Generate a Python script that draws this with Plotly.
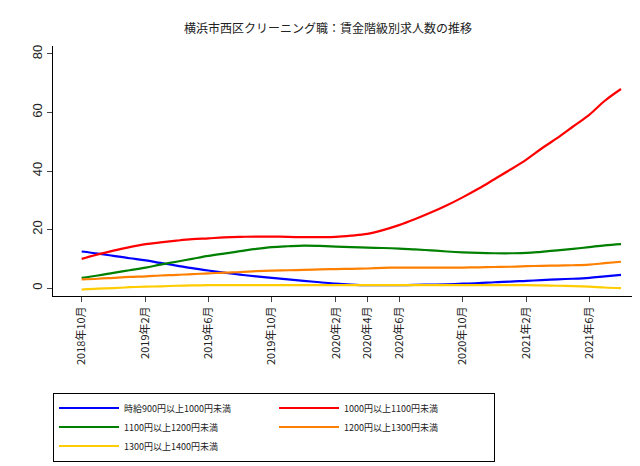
import plotly.graph_objects as go
import pandas as pd

months = pd.date_range("2018-10-01", "2021-08-01", freq="MS")
names = ["時給900円以上1000円未満", "1000円以上1100円未満", "1100円以上1200円未満",
         "1200円以上1300円未満", "1300円以上1400円未満"]
colors = ["#0000ff", "#ff0000", "#008000", "#ff8000", "#ffcc00"]
blue = [12.5,11.8,11,10.2,9.5,8.6,7.7,6.8,6,5.3,4.6,4,3.5,3,2.5,2,1.5,1.2,1,1,1,1.1,1.2,1.3,1.5,1.7,2,2.2,2.5,2.7,3,3.2,3.5,4,4.5]
red = [10,11.5,12.8,14,15,15.6,16.2,16.7,17,17.3,17.5,17.6,17.6,17.5,17.4,17.4,17.5,17.9,18.5,19.8,21.5,23.5,25.8,28.3,31,34,37.2,40.5,44,47.6,51.3,55.2,59.2,64,68]
green = [3.5,4.3,5.2,6.1,7,8,9,10,11,11.8,12.6,13.4,14,14.3,14.5,14.4,14.2,14,13.8,13.7,13.5,13.2,12.9,12.5,12.2,12,11.9,11.9,12,12.4,12.9,13.4,14,14.6,15]
orange = [3,3.2,3.5,3.8,4,4.3,4.5,4.8,5,5.3,5.5,5.8,6,6.1,6.2,6.4,6.5,6.6,6.7,6.9,7,7,7,7,7,7.1,7.2,7.3,7.5,7.6,7.7,7.8,8,8.5,9]
yellow = [-0.5,-0.2,0,0.3,0.5,0.6,0.8,0.9,1,1,1,1,1,1,1,1,1,1,1,1,1,1,1,1,1,1,1,1,1,0.9,0.8,0.7,0.5,0.2,0]
series = [blue, red, green, orange, yellow]

tickdates = ["2018-10-01","2019-02-01","2019-06-01","2019-10-01","2020-02-01","2020-04-01",
             "2020-06-01","2020-10-01","2021-02-01","2021-06-01"]
ticklabels = ["2018年10月","2019年2月","2019年6月","2019年10月","2020年2月","2020年4月",
              "2020年6月","2020年10月","2021年2月","2021年6月"]

fig = go.Figure()
for n, c, s in zip(names, colors, series):
    fig.add_trace(go.Scatter(x=months, y=s, name=n, mode="lines",
                             line=dict(color=c, width=2.2, shape="spline")))

font = "Noto Sans CJK JP"
fig.update_layout(
    width=640, height=466, plot_bgcolor="white", paper_bgcolor="white",
    font=dict(family=font, size=11, color="#222"),
    title=dict(text="横浜市西区クリーニング職：賃金階級別求人数の推移", x=0.5, xanchor="center",
               y=0.965, yanchor="top", font=dict(size=12, color="#222")),
    margin=dict(l=45, r=15, t=38, b=174),
    xaxis=dict(range=["2018-08-07", "2021-08-24"], tickvals=tickdates, ticktext=ticklabels,
               tickangle=-90, showgrid=False, showline=True, linecolor="black",
               ticks="outside", ticklen=5, tickfont=dict(size=11), zeroline=False),
    yaxis=dict(range=[-2.7, 82.7], tickvals=[0,20,40,60,80], showgrid=False, showline=True,
               linecolor="black", ticks="outside", ticklen=5, tickangle=-90,
               tickfont=dict(size=13, family="Liberation Sans"), zeroline=False),
    legend=dict(orientation="h", x=0.0, y=-0.386, xanchor="left", yanchor="top",
                bordercolor="black", borderwidth=1, font=dict(size=9),
                entrywidth=145, itemwidth=60),
)
fig.write_html("out.html")
